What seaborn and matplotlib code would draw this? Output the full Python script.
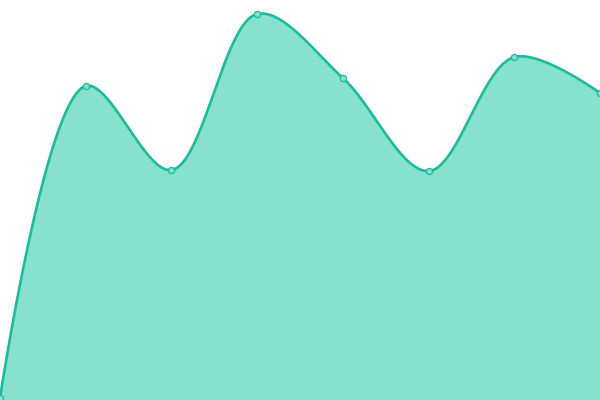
import numpy as np
import pandas as pd
import matplotlib
matplotlib.use('Agg')
import matplotlib.pyplot as plt
import seaborn as sns

# valori (asse y 0-400)
categorie = [0, 1, 2, 3, 4, 5, 6, 7]
valori = [2, 314, 230, 386, 322, 229, 343, 307]

colore_linea = '#1abc9c'
colore_area = '#88e0cf'


def catmull_rom(x, y, alpha=0.5, n=50):
    # catmull-rom centripeta (come d3), calcolata in pixel
    sc = 600 / 7
    P = np.column_stack([np.asarray(x, float) * sc, np.asarray(y, float)])
    t = np.linspace(0, 1, n)[:, None]
    pts = []
    for i in range(len(P) - 1):
        p1, p2 = P[i], P[i + 1]
        p0 = P[i - 1] if i > 0 else None
        p3 = P[i + 2] if i + 2 < len(P) else None
        l12 = np.linalg.norm(p2 - p1)
        c1, c2 = p1.copy(), p2.copy()
        if p0 is not None:
            l01 = np.linalg.norm(p1 - p0)
            a = 2 * l01**(2 * alpha) + 3 * l01**alpha * l12**alpha + l12**(2 * alpha)
            m = 3 * l01**alpha * (l01**alpha + l12**alpha)
            c1 = (p1 * a - p0 * l12**(2 * alpha) + p2 * l01**(2 * alpha)) / m
        if p3 is not None:
            l23 = np.linalg.norm(p3 - p2)
            b = 2 * l23**(2 * alpha) + 3 * l23**alpha * l12**alpha + l12**(2 * alpha)
            m = 3 * l23**alpha * (l23**alpha + l12**alpha)
            c2 = (p2 * b + p1 * l23**(2 * alpha) - p3 * l12**(2 * alpha)) / m
        seg = ((1 - t)**3 * p1 + 3 * (1 - t)**2 * t * c1
               + 3 * (1 - t) * t**2 * c2 + t**3 * p2)
        pts.append(seg)
    pts = np.vstack(pts)
    return pts[:, 0] / sc, pts[:, 1]


df = pd.DataFrame({'x': categorie, 'y': valori})
sx, sy = catmull_rom(categorie, valori)

sns.set_style('white')
fig = plt.figure(figsize=(6, 4), dpi=100)
ax = fig.add_axes([0, 0, 1, 1])

ax.fill_between(sx, 0, sy, color=colore_area, linewidth=0)
sns.lineplot(x=sx, y=sy, ax=ax, color=colore_linea, linewidth=1.9, sort=False)
sns.scatterplot(data=df, x='x', y='y', ax=ax, s=20, color=colore_area,
                edgecolor=colore_linea, linewidth=0.9, zorder=5)

ax.set_xlim(0, 7)
ax.set_ylim(0, 400)
ax.axis('off')

plt.savefig('out.png', dpi=100)
